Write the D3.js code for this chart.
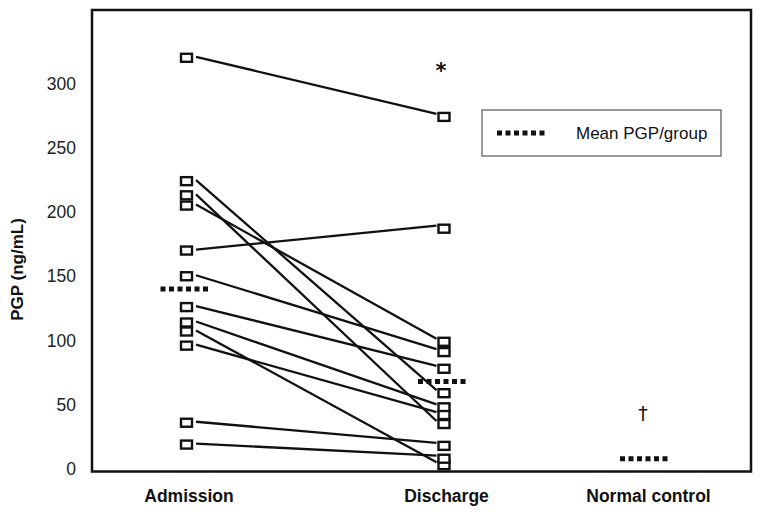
<!DOCTYPE html>
<html><head><meta charset="utf-8">
<script src="https://cdn.jsdelivr.net/npm/d3@7"></script>
<style>body{margin:0;background:#fff}svg{display:block}text{font-family:"Liberation Sans",Arial,sans-serif}</style>
</head><body><svg id="c" width="762" height="515"></svg>
<script>
const categories = ["Admission", "Discharge", "Normal control"];
const admission = [320, 224, 213, 205, 170, 150, 126, 114, 107, 96, 36, 19];
const discharge = [274, 59, 35, 99, 187, 91, 78, 48, 3, 42, 18, 8];
const groupMeans = [140, 68, 8];
const yTicks = [0, 50, 100, 150, 200, 250, 300];
const annotations = [{cat: "Discharge", value: 311, text: "*"}, {cat: "Normal control", value: 43, text: "\u2020"}];
const legendLabel = "Mean PGP/group";

const svg = d3.select("#c");
const frame = {left: 92, top: 10, right: 751, bottom: 471.5};
const x = d3.scaleOrdinal().domain(categories).range([186.5, 444, 646]);
const y = d3.scaleLinear().domain([0, 300]).range([469, 83.5]);

// frame
svg.append("rect").attr("x", frame.left).attr("y", frame.top)
  .attr("width", frame.right - frame.left).attr("height", frame.bottom - frame.top)
  .attr("fill", "none").attr("stroke", "#111").attr("stroke-width", 2.5);

// y axis labels (no ticks)
const yAxis = d3.axisLeft(y).tickValues(yTicks).tickSize(0).tickPadding(0);
const ga = svg.append("g").attr("transform", "translate(76,0)").call(yAxis);
ga.select(".domain").remove();
ga.selectAll("text").attr("font-size", 17.5).attr("fill", "#222")
  .attr("font-family", '"Liberation Sans",Arial,sans-serif');

svg.append("text").attr("transform", "translate(23,269.5) rotate(-90)")
  .attr("text-anchor", "middle").attr("font-weight", "bold").attr("font-size", 17)
  .attr("fill", "#111").text("PGP (ng/mL)");

// category labels
svg.selectAll(".cat").data(categories).join("text")
  .attr("x", d => x(d) + 2.5).attr("y", 502).attr("text-anchor", "middle")
  .attr("font-weight", "bold").attr("font-size", 17.5).attr("fill", "#111").text(d => d);

const pairs = admission.map((a, i) => ({a, d: discharge[i]}));
const sw = 11, sh = 8;
// connecting lines
svg.selectAll(".ln").data(pairs).join("line")
  .attr("x1", x("Admission") + sw / 2 + 4).attr("y1", d => y(d.a) - 1)
  .attr("x2", x("Discharge") - sw / 2 - 2).attr("y2", d => y(d.d) - 3)
  .attr("stroke", "#111").attr("stroke-width", 2.3);

// squares
function squares(vals, cat) {
  svg.append("g").selectAll("rect").data(vals).join("rect")
    .attr("x", x(cat) - sw / 2).attr("y", d => y(d) - sh / 2)
    .attr("width", sw).attr("height", sh)
    .attr("fill", "#fff").attr("stroke", "#111").attr("stroke-width", 2.4);
}
squares(admission, "Admission");
squares(discharge, "Discharge");

// mean marks
const mw = 48;
svg.selectAll(".mean").data(groupMeans).join("line")
  .attr("x1", (d, i) => x(categories[i]) - mw / 2 - 2).attr("x2", (d, i) => x(categories[i]) + mw / 2 - 2)
  .attr("y1", d => y(d)).attr("y2", d => y(d))
  .attr("stroke", "#111").attr("stroke-width", 5).attr("stroke-dasharray", "5,3.5");

// annotations
svg.selectAll(".ann").data(annotations).join("text")
  .attr("x", d => x(d.cat) - 3).attr("y", d => y(d.value)).attr("dy", d => d.text === "*" ? "0.42em" : "0.35em")
  .attr("text-anchor", "middle").attr("font-size", d => d.text === "*" ? 21 : 19)
  .attr("font-weight", d => d.text === "*" ? "bold" : "normal")
  .style("font-family", '"DejaVu Sans",sans-serif')
  .attr("fill", "#111").text(d => d.text);

// legend
const lg = svg.append("g");
lg.append("rect").attr("x", 482).attr("y", 110).attr("width", 239).attr("height", 46)
  .attr("fill", "#fff").attr("stroke", "#555").attr("stroke-width", 1.2);
lg.append("line").attr("x1", 497).attr("x2", 545).attr("y1", 133).attr("y2", 133)
  .attr("stroke", "#111").attr("stroke-width", 5).attr("stroke-dasharray", "5,3.5");
lg.append("text").attr("x", 576).attr("y", 133).attr("dy", "0.35em")
  .attr("font-size", 17).attr("fill", "#111").text(legendLabel);
</script></body></html>
